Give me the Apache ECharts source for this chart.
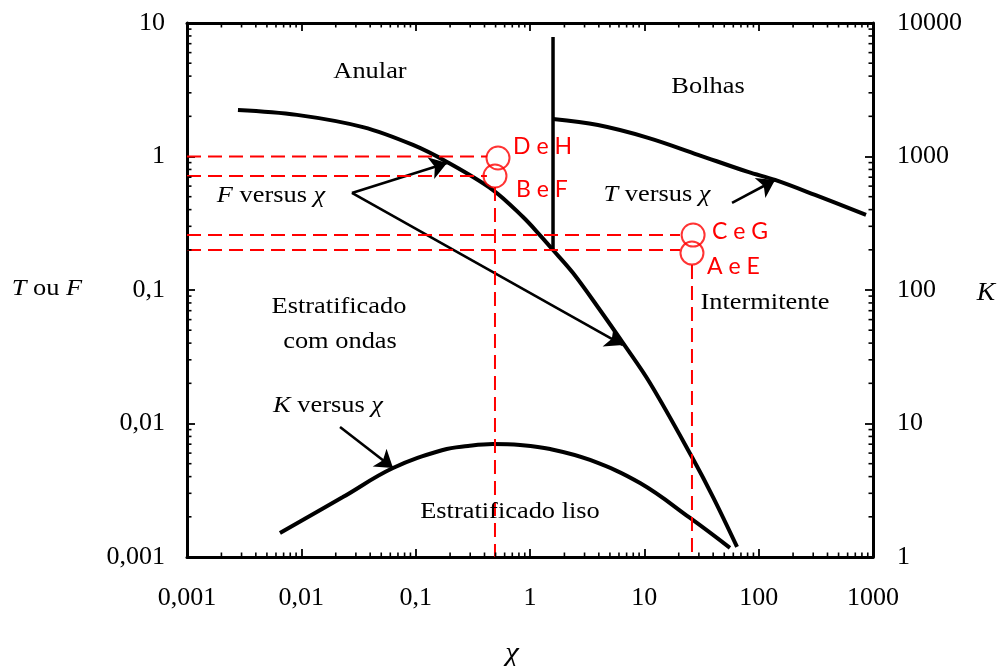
<!DOCTYPE html>
<html><head><meta charset="utf-8">
<script src="https://cdn.jsdelivr.net/npm/echarts@6/dist/echarts.min.js"></script>
<style>html,body{margin:0;padding:0;background:#fff}#c{width:998px;height:666px}</style>
</head><body><div id="c"></div>
<script>
// ---- data ----
const xDecades = [0.001, 0.01, 0.1, 1, 10, 100];
const yDecadesLeft = [0.001, 0.01, 0.1, 1];
const yDecadesRight = [1, 10, 100, 1000];
const minorFactors = [2, 3, 4, 5, 6, 7, 8, 9];

// F versus chi (left axis)
const fCurve = [[0.00279,2.23],[0.00916,2.05],[0.0346,1.66],[0.0948,1.22],[0.188,0.91],[0.474,0.561],[0.869,0.352],[1.22,0.258],[1.59,0.1995],[2.38,0.134],[4.09,0.0708],[6.50,0.0401],[11.2,0.0201],[26.1,0.00561],[39.9,0.00281],[64.7,0.00119]];
// vertical boundary (left axis)
const vLine = [[1.59,7.85],[1.59,0.1995]];
// T versus chi (left axis)
const tCurve = [[1.59,1.91],[3.93,1.72],[10.8,1.38],[29.5,1.03],[80.7,0.766],[139,0.667],[311,0.515],[869,0.365]];
// K versus chi (right axis)
const kCurve = [[0.0065,1.51],[0.0231,2.81],[0.0634,4.64],[0.173,6.33],[0.287,6.78],[0.474,7.02],[0.819,6.90],[1.50,6.44],[3.35,5.33],[9.17,3.58],[25.1,1.96],[56.1,1.17]];

// arrows: [start, end]
const arrowsLeft = [
  [[0.0277,0.533],[0.188,0.894]],
  [[0.0277,0.533],[6.50,0.0387]],
  [[58.5,0.449],[139,0.667]]
];
const arrowsRight = [
  [[0.0218,9.42],[0.0634,4.64]]
];

// red operating points
const pointNames = ['D e H','B e F','C e G','A e E'];
const pointX = [0.525, 0.494, 26.7, 26.1];
const pointY = [0.975, 0.714, 0.258, 0.189];
// red dashed guide lines
const dashSegs = [
  [[0.001,1.0],[0.42,1.0]],
  [[0.001,0.714],[0.42,0.714]],
  [[0.001,0.258],[20.5,0.258]],
  [[0.001,0.1995],[20.5,0.1995]],
  [[0.494,0.59],[0.494,0.001]],
  [[26.1,0.154],[26.1,0.001]]
];

// ---- build chart ----
const chart = echarts.init(document.getElementById('c'), null, {renderer:'canvas'});
const serif = 'Liberation Serif';
const fmt = v => String(parseFloat(Number(v).toPrecision(6))).replace('.', ',');

const minorBottomTop = [];
xDecades.forEach(d => minorFactors.forEach(f => {
  minorBottomTop.push([d*f, 0.001, 0]);
  minorBottomTop.push([d*f, 10, 1]);
}));
const minorLeft = [];
yDecadesLeft.forEach(d => minorFactors.forEach(f => minorLeft.push([0.001, d*f, 2])));
const minorRight = [];
yDecadesRight.forEach(d => minorFactors.forEach(f => minorRight.push([1000, d*f, 3])));

function tickRender(params, api) {
  const p = api.coord([api.value(0), api.value(1)]);
  const dir = api.value(2), L = 4.5;
  let x2 = p[0], y2 = p[1];
  if (dir === 0) y2 -= L; else if (dir === 1) y2 += L; else if (dir === 2) x2 += L; else x2 -= L;
  return {type:'line', shape:{x1:p[0], y1:p[1], x2:x2, y2:y2}, style:{stroke:'#000', lineWidth:1.6}};
}

const axisCommon = {
  type:'log', logBase:10,
  axisLine:{show:true, onZero:false, lineStyle:{color:'#000', width:3}},
  axisTick:{show:true, inside:true, length:8, lineStyle:{color:'#000', width:1.8}},
  splitLine:{show:false},
  minorTick:{show:false}
};

const series = [];
series.push({type:'line', xAxisIndex:0, yAxisIndex:0, data:fCurve, smooth:0.35, symbol:'none', lineStyle:{color:'#000', width:4}, z:3});
series.push({type:'line', xAxisIndex:0, yAxisIndex:0, data:vLine, symbol:'none', lineStyle:{color:'#000', width:3.5}, z:3});
series.push({type:'line', xAxisIndex:0, yAxisIndex:0, data:tCurve, smooth:0.35, symbol:'none', lineStyle:{color:'#000', width:4}, z:3});
series.push({type:'line', xAxisIndex:0, yAxisIndex:1, data:kCurve, smooth:0.4, symbol:'none', lineStyle:{color:'#000', width:4}, z:3});
series.push({type:'lines', coordinateSystem:'cartesian2d', xAxisIndex:0, yAxisIndex:0,
  data: arrowsLeft.map(a => ({coords:a})), symbol:['none','arrow'], symbolSize:17,
  lineStyle:{color:'#000', width:2.6, opacity:1, curveness:0}, z:4});
series.push({type:'lines', coordinateSystem:'cartesian2d', xAxisIndex:0, yAxisIndex:1,
  data: arrowsRight.map(a => ({coords:a})), symbol:['none','arrow'], symbolSize:17,
  lineStyle:{color:'#000', width:2.6, opacity:1, curveness:0}, z:4});
dashSegs.forEach(s => series.push({type:'line', xAxisIndex:0, yAxisIndex:0, data:s, symbol:'none',
  lineStyle:{color:'#ff0000', width:2, type:[14,7]}, z:5}));
series.push({type:'scatter', xAxisIndex:0, yAxisIndex:0,
  data: pointX.map((x,i) => ({name:pointNames[i], value:[x, pointY[i]]})),
  symbol:'circle', symbolSize:23, itemStyle:{color:'rgba(0,0,0,0)', borderColor:'#ff0000', borderWidth:2}, z:6});
series.push({type:'custom', xAxisIndex:0, yAxisIndex:0, data:minorBottomTop, renderItem:tickRender, clip:false, encode:{x:0,y:1}, z:7});
series.push({type:'custom', xAxisIndex:0, yAxisIndex:0, data:minorLeft, renderItem:tickRender, clip:false, encode:{x:0,y:1}, z:7});
series.push({type:'custom', xAxisIndex:0, yAxisIndex:1, data:minorRight, renderItem:tickRender, clip:false, encode:{x:0,y:1}, z:7});

const black = (text, x, y) => ({type:'text', x:x, y:y, scaleX:1.1, z:10,
  style:{text:text, fill:'#000', font:'24px "Liberation Serif"', align:'center', verticalAlign:'middle'}});
const richText = (t, x, y, size) => ({type:'text', x:x, y:y, scaleX:1.1, z:10,
  style:{text:t, fill:'#000', align:'center', verticalAlign:'middle', fontFamily:serif, fontSize:size,
    rich:{i:{fontStyle:'italic', fontFamily:serif, fontSize:size, fill:'#000'}, n:{fontFamily:serif, fontSize:size, fill:'#000'}}}});
const red = (text, x, y) => ({type:'text', x:x, y:y, z:10,
  style:{text:text, fill:'#ff0000', font:'23px Lato', align:'left', verticalAlign:'middle'}});

const option = {
  animation:false,
  backgroundColor:'#fff',
  grid:{left:187, right:125, top:23, bottom:109, containLabel:false},
  xAxis:[
    Object.assign({}, axisCommon, {position:'bottom', min:0.001, max:1000, splitNumber:6,
      axisLabel:{formatter:fmt, fontFamily:serif, fontSize:26, color:'#000', margin:28}}),
    Object.assign({}, axisCommon, {position:'top', min:0.001, max:1000, splitNumber:6, axisLabel:{show:false}})
  ],
  yAxis:[
    Object.assign({}, axisCommon, {position:'left', min:0.001, max:10, splitNumber:4,
      axisLabel:{formatter:fmt, fontFamily:serif, fontSize:26, color:'#000', margin:22}}),
    Object.assign({}, axisCommon, {position:'right', min:1, max:10000, splitNumber:4,
      axisLabel:{formatter:fmt, fontFamily:serif, fontSize:26, color:'#000', margin:24}})
  ],
  series:series,
  graphic:[
    black('Anular', 370, 72),
    black('Bolhas', 708, 87),
    richText('{i|F}{n| versus }{i|χ}', 271, 196, 24),
    richText('{i|T}{n| versus }{i|χ}', 657, 195, 24),
    black('Estratificado', 339, 307),
    black('com ondas', 340, 342),
    black('Intermitente', 765, 303),
    richText('{i|K}{n| versus }{i|χ}', 328, 406, 24),
    black('Estratificado liso', 510, 512),
    richText('{i|T}{n| ou }{i|F}', 47, 289, 24),
    richText('{i|K}', 986, 293, 25),
    richText('{i|χ}', 512, 654, 28),
    red('D e H', 513, 147),
    red('B e F', 516, 190),
    red('C e G', 712, 232),
    red('A e E', 707, 267)
  ]
};
chart.setOption(option);
</script></body></html>
